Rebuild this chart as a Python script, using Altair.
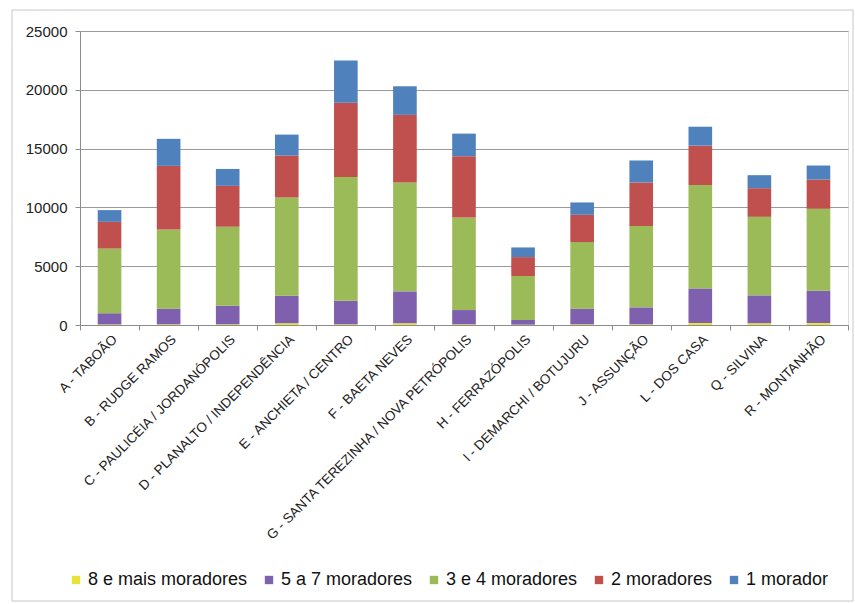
import altair as alt
import pandas as pd

# Regiões (eixo X)
regioes = [
    "A - TABOÃO",
    "B - RUDGE RAMOS",
    "C - PAULICÉIA / JORDANÓPOLIS",
    "D - PLANALTO / INDEPENDÊNCIA",
    "E - ANCHIETA / CENTRO",
    "F - BAETA NEVES",
    "G - SANTA TEREZINHA / NOVA PETRÓPOLIS",
    "H - FERRAZÓPOLIS",
    "I - DEMARCHI / BOTUJURU",
    "J - ASSUNÇÃO",
    "L - DOS CASA",
    "Q - SILVINA",
    "R - MONTANHÃO",
]

# Domicílios por número de moradores
mais_8 = [50, 60, 60, 150, 60, 150, 60, 30, 60, 60, 170, 150, 170]
de_5_a_7 = [950, 1330, 1580, 2340, 2000, 2710, 1210, 395, 1330, 1440, 2940, 2370, 2750]
de_3_e_4 = [5500, 6740, 6710, 8350, 10530, 9260, 7870, 3740, 5660, 6910, 8800, 6680, 6960]
dois = [2270, 5400, 3480, 3570, 6310, 5750, 5210, 1610, 2320, 3710, 3340, 2435, 2490]
um = [1000, 2300, 1440, 1780, 3600, 2430, 1925, 820, 1050, 1870, 1610, 1105, 1190]

series = [
    "8 e mais moradores",
    "5 a 7 moradores",
    "3 e 4 moradores",
    "2 moradores",
    "1 morador",
]
cores = ["#E8E23A", "#7F60AE", "#9BBB59", "#C0504D", "#4F81BD"]

rows = []
for ordem, (nome, valores) in enumerate(zip(series, [mais_8, de_5_a_7, de_3_e_4, dois, um])):
    for regiao, v in zip(regioes, valores):
        rows.append({"regiao": regiao, "serie": nome, "valor": v, "ordem": ordem})
df = pd.DataFrame(rows)

FONT = "Liberation Sans"

barras = alt.Chart(df).mark_bar(width=alt.RelativeBandSize(0.4)).encode(
    x=alt.X(
        "regiao:N",
        sort=regioes,
        title=None,
        scale=alt.Scale(paddingInner=0, paddingOuter=0),
        axis=alt.Axis(
            labelAngle=-45,
            labelFontSize=13.5,
            labelFont=FONT,
            labelColor="#222222",
            labelPadding=2,
            labelLimit=400,
            tickBand="extent",
            tickSize=5,
            tickColor="#8c8c8c",
            domainColor="#8c8c8c",
            grid=False,
        ),
    ),
    y=alt.Y(
        "valor:Q",
        stack="zero",
        title=None,
        scale=alt.Scale(domain=[0, 25000], nice=False),
        axis=alt.Axis(
            values=[0, 5000, 10000, 15000, 20000, 25000],
            format="d",
            labelFontSize=15,
            labelFont=FONT,
            labelColor="#222222",
            labelPadding=8,
            tickSize=5,
            tickColor="#8c8c8c",
            domainColor="#8c8c8c",
            gridColor="#9a9a9a",
            gridWidth=1,
        ),
    ),
    color=alt.Color(
        "serie:N",
        scale=alt.Scale(domain=series, range=cores),
        legend=alt.Legend(
            title=None,
            orient="none",
            direction="horizontal",
            legendX=-13,
            legendY=540,
            symbolType="square",
            symbolSize=70,
            symbolStrokeWidth=0,
            labelFontSize=18,
            labelFont=FONT,
            labelColor="#111111",
            labelOffset=3,
            columnPadding=12,
            labelLimit=300,
        ),
    ),
    order=alt.Order("ordem:Q", sort="ascending"),
)

# Moldura cinza em volta do gráfico
moldura = alt.Chart(pd.DataFrame({"k": [0]})).mark_rect(
    fill=None, stroke="#c8c8c8", strokeWidth=1
).encode(
    x=alt.value(-68), x2=alt.value(773), y=alt.value(-21), y2=alt.value(570)
)

chart = (
    alt.layer(moldura, barras)
    .properties(
        width=768,
        height=294,
        autosize=alt.AutoSizeParams(type="none"),
        padding={"left": 80, "top": 31, "right": 7, "bottom": 279},
    )
    .configure_view(stroke=None)
    .configure(background="white")
)

chart.save("out.html", embed_options={"renderer": "svg", "actions": False})
